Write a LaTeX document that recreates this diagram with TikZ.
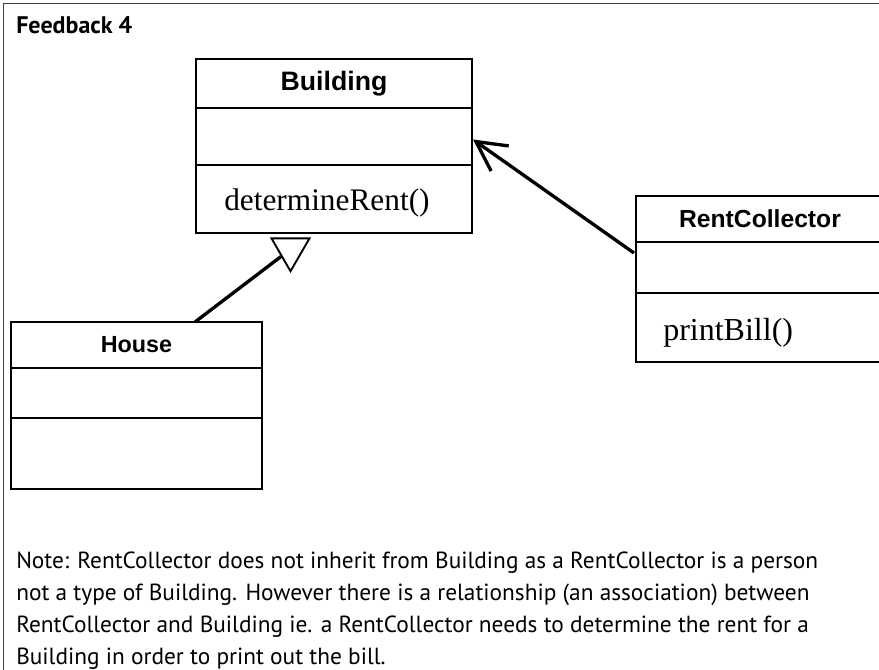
\documentclass[tikz,border=0pt]{standalone}
\usepackage{fontspec}
\setmainfont{Liberation Serif}
\newfontfamily\arialfont{Liberation Sans}
\newfontfamily\notefont{PT Sans}
\usetikzlibrary{arrows.meta,calc,positioning,shapes.geometric}
\tikzset{head/.style={draw, line width=1.4pt, outer sep=0pt, inner sep=0pt, font=\arialfont\bfseries\fontsize{#1}{#1}\selectfont},
  part/.style={draw, line width=1.4pt, outer sep=0pt, inner sep=0pt},
  op/.style={anchor=west, inner sep=0pt, font=\fontsize{#1}{#1}\selectfont},
  link/.style={line width=2.5pt},
  gen/.style={draw, line width=1.4pt, regular polygon, regular polygon sides=3, shape border rotate=180,
    minimum size=32.9pt, inner sep=0pt}}

\begin{document}
\begin{tikzpicture}[x=0.75pt, y=-0.75pt]
  \path[use as bounding box, clip] (0,0) rectangle (879,670);
  \draw[line width=1pt, black!75] (3.5,3.5) rectangle (885,675);
  \node[anchor=west, inner sep=0pt, font=\notefont\bfseries\fontsize{18}{20}\selectfont] (title) at (16,25) {Feedback 4};

  \node[head=20, minimum width=207pt, minimum height=36.75pt, anchor=north west] (bhead) at (196,59) {Building};
  \node[part, minimum width=207pt, minimum height=42.75pt, below=0pt of bhead] (battr) {};
  \node[part, minimum width=207pt, minimum height=51pt, below=0pt of battr] (bops) {};
  \node[op=23.5] (bop) at ($(bops.west)+(28,4)$) {determineRent()};

  \node[head=18.5, minimum width=186pt, minimum height=34.5pt, anchor=north west] (rhead) at (636,196) {RentCollector};
  \node[part, minimum width=186pt, minimum height=38.25pt, below=0pt of rhead] (rattr) {};
  \node[part, minimum width=186pt, minimum height=51.75pt, below=0pt of rattr] (rops) {};
  \node[op=24] (rop) at ($(rops.west)+(27,5)$) {printBill()};

  \node[head=17.5, minimum width=188.25pt, minimum height=34.5pt, anchor=north west] (hhead) at (11,322) {House};
  \node[part, minimum width=188.25pt, minimum height=37.5pt, below=0pt of hhead] (hattr) {};
  \node[part, minimum width=188.25pt, minimum height=53.25pt, below=0pt of hattr] (hops) {};

  \node[gen] (tri) at (290.5,249.3) {};
  \draw[link] ($(hhead.north west)!0.733!(hhead.north east)$) -- (tri);
  \draw[link, -{Straight Barb[length=22pt, width=23pt]}] ($(rattr.north west)+(-2,11)$) -- ($(battr.east)+(1,3)$);

  \node[anchor=north west, inner sep=0pt, align=left, font=\notefont\fontsize{17.5}{23.8}\selectfont] (note) at (16,552)
    {Note: RentCollector does not inherit from Building as a RentCollector is a person\\
     not a type of Building. However there is a relationship (an association) between\\
     RentCollector and Building ie. a RentCollector needs to determine the rent for a\\
     Building in order to print out the bill.};
\end{tikzpicture}
\end{document}
